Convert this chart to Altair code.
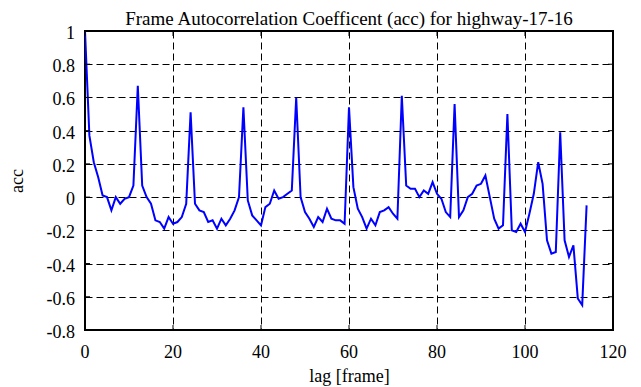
import altair as alt
import pandas as pd

lags = list(range(0, 115))
acc = [
    1.00, 0.37, 0.21, 0.12, 0.01, 0.00, -0.08, 0.00, -0.04, -0.01,
    0.00, 0.07, 0.67, 0.07, 0.00, -0.04, -0.14, -0.15, -0.19, -0.12,
    -0.16, -0.15, -0.12, -0.04, 0.51, -0.04, -0.08, -0.09, -0.15, -0.14,
    -0.19, -0.13, -0.17, -0.13, -0.08, 0.00, 0.54, -0.02, -0.11, -0.14,
    -0.17, -0.06, -0.04, 0.04, -0.01, 0.00, 0.02, 0.04, 0.60, 0.00,
    -0.09, -0.13, -0.18, -0.12, -0.15, -0.07, -0.13, -0.14, -0.14, -0.16,
    0.54, 0.06, -0.07, -0.12, -0.19, -0.13, -0.17, -0.09, -0.08, -0.06,
    -0.10, -0.13, 0.61, 0.07, 0.05, 0.05, 0.00, 0.04, 0.02, 0.09,
    0.02, -0.01, -0.09, -0.12, 0.56, -0.12, -0.08, 0.00, 0.02, 0.07,
    0.08, 0.13, 0.00, -0.13, -0.19, -0.17, 0.50, -0.20, -0.21, -0.16,
    -0.21, -0.10, 0.02, 0.21, 0.08, -0.26, -0.34, -0.33, 0.39, -0.26,
    -0.36, -0.29, -0.61, -0.65, -0.05,
]
x_ticks = [0, 20, 40, 60, 80, 100, 120]
x_labels = ["0", "20", "40", "60", "80", "100", "120"]
y_ticks = [-0.8, -0.6, -0.4, -0.2, 0.0, 0.2, 0.4, 0.6, 0.8, 1.0]
y_labels = ["-0.8", "-0.6", "-0.4", "-0.2", "0", "0.2", "0.4", "0.6", "0.8", "1"]

W, H = 528, 299
FONT = "Liberation Serif"

df = pd.DataFrame({"lag": lags, "acc": acc})
dfx = pd.DataFrame({"t": x_ticks, "lab": x_labels})
dfy = pd.DataFrame({"t": y_ticks, "lab": y_labels})

xscale = alt.Scale(domain=[0, 120], nice=False, zero=False)
yscale = alt.Scale(domain=[-0.8, 1.0], nice=False, zero=False)

common = dict(ticks=False, domain=False, labels=False, grid=True, gridDash=[7, 4],
              gridColor="black", gridOpacity=1, gridWidth=1,
              titleFont=FONT, titleFontSize=18, titleFontWeight="normal", titleColor="black")

xaxis = alt.Axis(values=x_ticks, titleY=51, titleBaseline="alphabetic", **common)
yaxis = alt.Axis(values=y_ticks, titleX=-68, titleY=H / 2, titleAngle=-90,
                 titleBaseline="middle", **common)


def X(field):
    return alt.X(field, scale=xscale, axis=xaxis, title="lag [frame]")


def Y(field):
    return alt.Y(field, scale=yscale, axis=yaxis, title="acc")


line = alt.Chart(df).mark_line(color="#0000ff", strokeWidth=2, clip=True).encode(
    x=X("lag:Q"), y=Y("acc:Q"))

tick_len = 5
left = alt.Chart(dfy).mark_rule(color="black", strokeWidth=1).encode(
    y=Y("t:Q"), x=alt.value(0), x2=alt.value(tick_len))
right = alt.Chart(dfy).mark_rule(color="black", strokeWidth=1).encode(
    y=Y("t:Q"), x=alt.value(W - tick_len), x2=alt.value(W))
bottom = alt.Chart(dfx).mark_rule(color="black", strokeWidth=1).encode(
    x=X("t:Q"), y=alt.value(H - tick_len), y2=alt.value(H))
top = alt.Chart(dfx).mark_rule(color="black", strokeWidth=1).encode(
    x=X("t:Q"), y=alt.value(0), y2=alt.value(tick_len))

ylab = alt.Chart(dfy).mark_text(font=FONT, fontSize=18, color="black", align="right",
                                baseline="middle", dx=-10, dy=3).encode(
    y=Y("t:Q"), x=alt.value(0), text="lab:N")
xlab = alt.Chart(dfx).mark_text(font=FONT, fontSize=18, color="black", align="center",
                                baseline="alphabetic", dy=28).encode(
    x=X("t:Q"), y=alt.value(H), text="lab:N")

chart = alt.layer(line, left, right, bottom, top, ylab, xlab).properties(
    width=W, height=H,
    title=alt.TitleParams("Frame Autocorrelation Coefficent (acc) for highway-17-16",
                          font=FONT, fontSize=19, fontWeight="normal", color="black",
                          anchor="middle", offset=0, dy=4),
    autosize=alt.AutoSizeParams(type="none"),
    padding={"left": 77, "top": 23, "right": 20, "bottom": 62},
).configure(background="white", font=FONT).configure_view(
    stroke="black", strokeWidth=2
)

chart.save("out.html", embed_options={"renderer": "svg", "actions": False})
